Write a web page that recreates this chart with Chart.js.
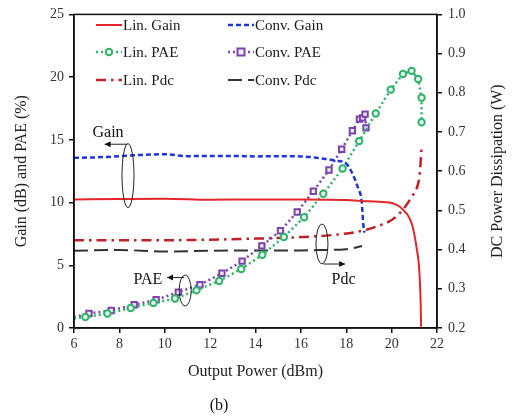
<!DOCTYPE html>
<html>
<head>
<meta charset="utf-8">
<script src="https://cdn.jsdelivr.net/npm/chart.js@4.4.1/dist/chart.umd.min.js"></script>
<style>
  html, body { margin: 0; padding: 0; background: #fff; }
  #wrap { width: 516px; height: 419px; }
</style>
</head>
<body>
<div id="wrap"><canvas id="grafico"></canvas></div>
<script>
// valores
const linGainX = [6, 8, 10, 12, 14, 16, 18, 19, 19.9, 20.5, 20.9, 21.1, 21.22, 21.28, 21.3];
const linGainY = [10.25, 10.28, 10.3, 10.22, 10.25, 10.25, 10.2, 10.1, 10.0, 9.44, 8.25, 6.4, 4.57, 1.95, 0.1];

const convGainX = [6, 7, 8, 9, 10, 11, 12, 13, 14, 15, 16, 17, 17.5, 18.0, 18.3, 18.53, 18.68, 18.75, 18.8];
const convGainY = [13.57, 13.6, 13.7, 13.8, 13.85, 13.7, 13.72, 13.72, 13.68, 13.7, 13.68, 13.5, 13.35, 13.1, 12.2, 11.1, 10.1, 8.3, 7.6];

const linPaeX = [6.0, 6.5, 7.47, 8.5, 9.5, 10.45, 11.4, 12.4, 13.37, 14.3, 15.25, 16.14, 16.99, 17.84, 18.57, 19.3, 19.96, 20.5, 20.88, 21.17, 21.32, 21.32];
const linPaeY = [0.75, 0.88, 1.15, 1.6, 2.0, 2.35, 3.0, 3.75, 4.7, 5.84, 7.25, 8.83, 10.7, 12.72, 14.9, 17.1, 19.0, 20.25, 20.5, 19.85, 18.35, 16.4];

const convPaeX = [6.0, 6.66, 7.64, 8.65, 9.62, 10.6, 11.55, 12.52, 13.41, 14.28, 15.1, 15.84, 16.55, 17.24, 17.8, 18.27, 18.58, 18.72, 18.83, 18.87];
const convPaeY = [0.85, 1.16, 1.4, 1.85, 2.25, 2.85, 3.45, 4.36, 5.33, 6.55, 7.75, 9.25, 10.9, 12.6, 14.25, 15.72, 16.65, 16.75, 17.05, 15.95];

const linPdcX = [6, 10, 14, 16, 17.7, 18.7, 19.3, 20.2, 20.9, 21.17, 21.25, 21.32];
const linPdcY = [0.424, 0.424, 0.428, 0.432, 0.439, 0.448, 0.458, 0.484, 0.536, 0.569, 0.6, 0.662];

const convPdcX = [6, 8, 10, 12, 14, 16, 17, 18, 18.7];
const convPdcY = [0.397, 0.399, 0.395, 0.397, 0.398, 0.398, 0.399, 0.401, 0.409];

const xTicks = [6, 8, 10, 12, 14, 16, 18, 20, 22];
const yTicks = [0, 5, 10, 15, 20, 25];
const y1Ticks = [0.2, 0.3, 0.4, 0.5, 0.6, 0.7, 0.8, 0.9, 1.0];

const pares = (xs, ys) => xs.map((x, i) => ({ x: x, y: ys[i] }));
const serif = "'Liberation Serif', 'DejaVu Serif', serif";

const dados = {
    datasets: [
        {
            label: "Lin. Gain",
            data: pares(linGainX, linGainY),
            borderColor: "#e4262b",
            borderWidth: 2,
            pointRadius: 0,
            cubicInterpolationMode: "monotone",
            yAxisID: "y"
        },
        {
            label: "Conv. Gain",
            data: pares(convGainX, convGainY),
            borderColor: "#1c35e0",
            borderWidth: 2.5,
            borderDash: [5, 3],
            pointRadius: 0,
            cubicInterpolationMode: "monotone",
            yAxisID: "y"
        },
        {
            label: "Lin. PAE",
            data: pares(linPaeX, linPaeY),
            borderColor: "#2fb36a",
            borderWidth: 2.5,
            borderDash: [2, 3],
            pointStyle: "circle",
            pointRadius: linPaeX.map((x, i) => i === 0 ? 0 : 3.2),
            pointBorderWidth: 2,
            pointBorderColor: "#2fb36a",
            pointBackgroundColor: "#e8f7ee",
            tension: 0,
            yAxisID: "y"
        },
        {
            label: "Conv. PAE",
            data: pares(convPaeX, convPaeY),
            borderColor: "#7a44ac",
            borderWidth: 2.5,
            borderDash: [2, 3],
            pointStyle: "rect",
            pointRadius: convPaeX.map((x, i) => i === 0 ? 0 : 3.8),
            pointBorderWidth: 2,
            pointBorderColor: "#7a44ac",
            pointBackgroundColor: "#f1eaf7",
            tension: 0,
            yAxisID: "y"
        },
        {
            label: "Lin. Pdc",
            data: pares(linPdcX, linPdcY),
            borderColor: "#c0202a",
            borderWidth: 2.5,
            borderDash: [10, 5, 2.5, 5],
            pointRadius: 0,
            cubicInterpolationMode: "monotone",
            yAxisID: "y1"
        },
        {
            label: "Conv. Pdc",
            data: pares(convPdcX, convPdcY),
            borderColor: "#333333",
            borderWidth: 2,
            borderDash: [14, 6],
            pointRadius: 0,
            cubicInterpolationMode: "monotone",
            yAxisID: "y1"
        }
    ]
};

// moldura, legenda, elipses, setas e titulo da direita
const extras = {
    id: "extras",
    afterDatasetsDraw(chart) {
        const ctx = chart.ctx;
        const a = chart.chartArea;
        const sx = chart.scales.x, sy = chart.scales.y;
        const px = v => sx.getPixelForValue(v);
        const py = v => sy.getPixelForValue(v);

        ctx.save();
        ctx.strokeStyle = "#111";
        ctx.lineWidth = 1.5;
        ctx.strokeRect(a.left, a.top, a.right - a.left, a.bottom - a.top);

        // legenda
        const cols = [96, 228];
        const rows = [25, 52, 80];
        ctx.font = "15px " + serif;
        ctx.textBaseline = "middle";
        ctx.textAlign = "left";
        chart.data.datasets.forEach((ds, i) => {
            const x0 = cols[i % 2], y0 = rows[Math.floor(i / 2)];
            ctx.strokeStyle = ds.borderColor;
            ctx.lineWidth = ds.borderWidth;
            ctx.setLineDash(ds.borderDash || []);
            ctx.beginPath();
            ctx.moveTo(x0, y0);
            ctx.lineTo(x0 + 26, y0);
            ctx.stroke();
            ctx.setLineDash([]);
            if (ds.pointStyle) {
                ctx.lineWidth = 2;
                ctx.fillStyle = ds.pointBackgroundColor;
                ctx.beginPath();
                if (ds.pointStyle === "rect") ctx.rect(x0 + 9.5, y0 - 3.5, 7, 7);
                else ctx.arc(x0 + 13, y0, 3.2, 0, Math.PI * 2);
                ctx.fill();
                ctx.stroke();
            }
            ctx.fillStyle = "#1a1a1a";
            ctx.fillText(ds.label, x0 + 27, y0 + 1);
        });

        // anotacoes
        ctx.strokeStyle = "#222";
        ctx.fillStyle = "#111";
        ctx.lineWidth = 1;
        const elipse = (cx, cy, rx, ry) => {
            ctx.beginPath();
            ctx.ellipse(px(cx), py(cy), rx, ry, 0, 0, Math.PI * 2);
            ctx.stroke();
        };
        const seta = (x1, x2, yv) => {
            const X1 = px(x1), X2 = px(x2), Y = py(yv);
            ctx.beginPath();
            ctx.moveTo(X1, Y);
            ctx.lineTo(X2, Y);
            ctx.stroke();
            const d = X2 > X1 ? 1 : -1;
            ctx.beginPath();
            ctx.moveTo(X2, Y);
            ctx.lineTo(X2 - d * 6, Y - 3);
            ctx.lineTo(X2 - d * 6, Y + 3);
            ctx.closePath();
            ctx.fill();
        };
        elipse(8.38, 12.15, 6, 32);
        seta(8.35, 7.35, 14.65);
        elipse(10.9, 2.99, 6, 15.5);
        seta(10.85, 10.1, 4.02);
        elipse(16.93, 6.7, 6, 20);
        seta(17.0, 17.95, 5.1);

        ctx.font = "16px " + serif;
        ctx.textAlign = "center";
        ctx.fillText("Gain", px(7.5), py(15.6));
        ctx.fillText("PAE", px(9.26), py(3.86));
        ctx.textAlign = "left";
        ctx.fillText("Pdc", px(17.35), py(3.86));

        ctx.textAlign = "center";
        ctx.fillText("(b)", 219, 406);

        // titulo do eixo direito, lido de baixo para cima
        ctx.fillStyle = "#222";
        ctx.translate(498, (a.top + a.bottom) / 2);
        ctx.rotate(-Math.PI / 2);
        ctx.fillText("DC Power Dissipation (W)", 0, 0);
        ctx.restore();
    }
};

const eixoX = {
    type: "linear",
    min: 6, max: 22,
    afterBuildTicks: s => { s.ticks = xTicks.map(v => ({ value: v })); },
    afterFit: s => { s.height = 91; },
    grid: { drawOnChartArea: false, tickLength: 5, color: "#111", lineWidth: 1.5 },
    border: { color: "#111", width: 1.5 },
    ticks: { color: "#333", font: { family: serif, size: 14 }, padding: 3 },
    title: { display: true, text: "Output Power (dBm)", color: "#222", font: { family: serif, size: 16 }, padding: { bottom: 38 } }
};

const conf = {
    type: "line",
    data: dados,
    options: {
        responsive: true,
        maintainAspectRatio: false,
        animation: false,
        layout: { padding: { top: 11 } },
        plugins: { legend: { display: false }, tooltip: { enabled: false } },
        scales: {
            x: eixoX,
            y: {
                position: "left",
                min: 0, max: 25,
                afterBuildTicks: s => { s.ticks = yTicks.map(v => ({ value: v })); },
                afterFit: s => { s.width = 74; },
                grid: { drawOnChartArea: false, tickLength: 5, color: "#111", lineWidth: 1.5 },
                border: { color: "#111", width: 1.5 },
                ticks: { color: "#333", font: { family: serif, size: 14 }, padding: 5 },
                title: { display: true, text: "Gain (dB) and PAE (%)", color: "#222", font: { family: serif, size: 16 }, padding: { top: 12 } }
            },
            y1: {
                position: "right",
                min: 0.2, max: 1.0,
                afterBuildTicks: s => { s.ticks = y1Ticks.map(v => ({ value: v })); },
                afterFit: s => { s.width = 79; },
                grid: { drawOnChartArea: false, tickLength: 5, color: "#111", lineWidth: 1.5 },
                border: { color: "#111", width: 1.5 },
                ticks: { color: "#333", font: { family: serif, size: 14 }, padding: 6, callback: v => v.toFixed(1) },
                title: { display: false }
            }
        }
    },
    plugins: [extras]
};

new Chart(document.getElementById("grafico"), conf);
</script>
</body>
</html>
